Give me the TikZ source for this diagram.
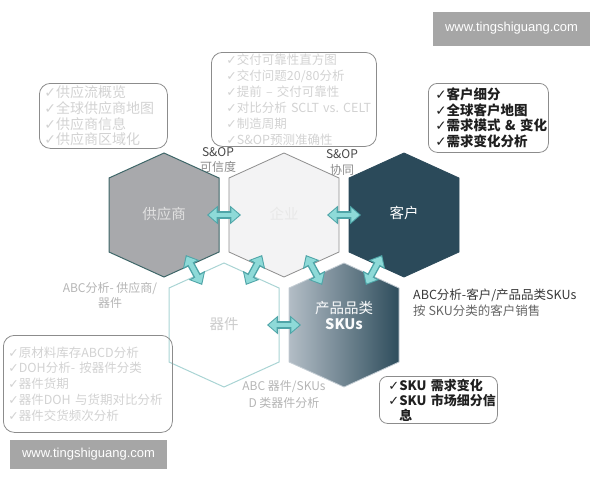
\documentclass[tikz,border=0pt]{standalone}
\usepackage{fontspec}
\setmainfont{Noto Sans CJK SC}
\newfontfamily\symfont{DejaVu Sans}
\newfontfamily\webfont{Liberation Sans}
\newcommand\ck{{\symfont ✓}}
\usetikzlibrary{arrows.meta}

\definecolor{supfill}{HTML}{A8A9AC}
\definecolor{supedge}{HTML}{3E6668}
\definecolor{entfill}{HTML}{F3F3F4}
\definecolor{entedge}{HTML}{8E8E8E}
\definecolor{cusfill}{HTML}{2B4A5A}
\definecolor{cmpedge}{HTML}{A9D4D4}
\definecolor{skulight}{HTML}{B3BDC6}
\definecolor{skudark}{HTML}{2E4D5C}
\definecolor{skuedge}{HTML}{C4CDD4}
\definecolor{arrowfill}{HTML}{8EDAD8}
\definecolor{arrowedge}{HTML}{4FA5A8}
\definecolor{boxedge}{HTML}{8C8C8C}
\definecolor{faint}{HTML}{D2D2D2}
\definecolor{notegray}{HTML}{B5B5B5}
\definecolor{markgray}{HTML}{A6A6A6}

\tikzset{
  hexsup/.style={fill=supfill, draw=supedge, line width=1pt},
  hexent/.style={fill=entfill, draw=entedge, line width=0.8pt},
  hexcus/.style={fill=cusfill, draw=cusfill, line width=0.8pt},
  hexcmp/.style={fill=white, draw=cmpedge, line width=1pt},
  hexsku/.style={left color=skulight, right color=skudark, draw=skuedge, line width=0.8pt},
  hexlabel/.style={font=\fontsize{14.5}{17}\selectfont, inner sep=0pt},
  infobox/.style={draw=boxedge, line width=0.8pt, rounded corners=11pt, align=left, anchor=north west, inner ysep=1pt},
  sidenote/.style={font=\fontsize{12}{15.5}\selectfont, inner sep=0pt},
  webmark/.style={fill=markgray, text=white, font=\webfont\fontsize{13}{15}\selectfont, inner sep=0pt},
  linkarrow/.style={draw=arrowedge, line width=7.5pt,
    {Triangle[width=18pt,length=11pt]}-{Triangle[width=18pt,length=11pt]},
    shorten <=#1, shorten >=#1,
    postaction={draw=arrowfill, line width=4.6pt,
      {Triangle[width=13.5pt,length=8pt]}-{Triangle[width=13.5pt,length=8pt]},
      shorten <=#1+1.7pt, shorten >=#1+1.7pt}}
}

\begin{document}
\begin{tikzpicture}[x=1pt,y=-1pt]
\useasboundingbox (0,0) rectangle (600,480);

% hexagons
\foreach \nm/\px/\py/\hexsty in {hsup/164/215/hexsup, hent/284/215/hexent, hcus/404/215/hexcus, hcmp/224/325/hexcmp, hsku/344/325/hexsku} {
  \coordinate (\nm) at (\px,\py);
  \draw[\hexsty] (\nm) ++(0,-62) -- ++(55,25) -- ++(0,74) -- ++(-55,25) -- ++(-55,-25) -- ++(0,-74) -- cycle;
}

\node[hexlabel, text=black!12] (sup) at ([yshift=1pt]hsup) {供应商};
\node[hexlabel, text=black!9] (ent) at ([yshift=1pt]hent) {企业};
\node[hexlabel, text=white] (cus) at ([yshift=2pt]hcus) {客户};
\node[hexlabel, text=black!20] (cmp) at ([yshift=1pt]hcmp) {器件};
\node[hexlabel, text=white!94!skulight, align=center, font=\fontsize{14.5}{16}\selectfont] (sku) at ([yshift=10pt]hsku) {产品品类\\\textbf{SKUs}};

% links
\draw[linkarrow=43pt] (hsup) -- (hent);
\draw[linkarrow=43pt] (hent) -- (hcus);
\draw[linkarrow=43pt] (hcmp) -- (hsku);
\draw[linkarrow=45.6pt] (hsup) -- (hcmp);
\draw[linkarrow=45.6pt] (hent) -- (hcmp);
\draw[linkarrow=45.6pt] (hent) -- (hsku);
\draw[linkarrow=45.6pt] (hcus) -- (hsku);

% boxes
\node[infobox, text=faint, font=\fontsize{14}{15.7}\selectfont, text width=118pt, inner xsep=5pt, minimum height=65pt] (supnote) at (39,83)
  {\ck 供应流概览\\\ck 全球供应商地图\\\ck 供应商信息\\\ck 供应商区域化};
\node[infobox, text=faint, font=\fontsize{12.5}{16}\selectfont, text width=135pt, inner xsep=15pt, minimum height=94pt] (entnote) at (211,52)
  {\ck 交付可靠性直方图\\\ck 交付问题20/80分析\\\ck 提前 – 交付可靠性\\\ck 对比分析~SCLT~vs.~CELT\\\ck 制造周期\\\ck S\&OP预测准确性};
\node[infobox, text=black!88, font=\bfseries\fontsize{13.5}{15.5}\selectfont, text width=106pt, inner xsep=7pt, minimum height=69pt, rounded corners=9pt] (cusnote) at (428,83)
  {\ck 客户细分\\\ck 全球客户地图\\\ck 需求模式~\&~变化\\\ck 需求变化分析};
\node[infobox, text=faint, font=\fontsize{12.5}{15.7}\selectfont, text width=159pt, inner xsep=5pt, minimum height=97pt] (cmpnote) at (3,335)
  {\ck 原材料库存ABCD分析\\\ck DOH分析-~按器件分类\\\ck 器件货期\\\ck 器件DOH~与货期对比分析\\\ck 器件交货频次分析};
\node[infobox, text=black!88, font=\bfseries\fontsize{13}{15}\selectfont, text width=100pt, inner xsep=9pt, minimum height=47pt, rounded corners=8pt] (skunote) at (379,376)
  {\ck SKU~需求变化\\\ck SKU~市场细分信\\\phantom{\ck}息};

% side notes
\node[sidenote, align=center, text=black!45] (sopcred) at (218,160) {{\color{black!72}S\&OP}\\可信度};
\node[sidenote, align=center, text=black!45, font=\fontsize{12}{16.5}\selectfont] (sopsync) at (342,162.5) {{\color{black!72}S\&OP}\\协同};
\node[sidenote, align=center, text=notegray] (abcsup) at (110,295.5) {ABC分析-~供应商/\\器件};
\node[sidenote, align=center, text=notegray, font=\fontsize{12}{17}\selectfont] (abccmp) at (284,394.5) {ABC 器件/SKUs\\D 类器件分析};
\node[sidenote, align=left, anchor=west, text=black!78, font=\fontsize{12.5}{15.5}\selectfont] (abccus) at (413,302.5) {ABC分析-客户/产品品类SKUs\\{\color{black!60}按 SKU分类的客户销售}};

% site marks
\node[webmark, minimum width=157pt, minimum height=34pt] (marktop) at (511.5,28.5) {www.tingshiguang.com};
\node[webmark, minimum width=157pt, minimum height=29pt] (markbot) at (88.5,454.5) {www.tingshiguang.com};
\end{tikzpicture}
\end{document}
